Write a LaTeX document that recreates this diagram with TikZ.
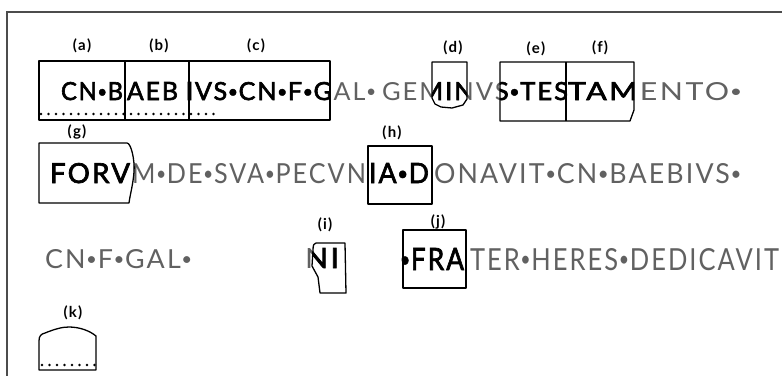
\documentclass[tikz,border=0pt]{standalone}
\usepackage{fontspec}
\usepackage{graphicx}
\setmainfont{Lato}
\newfontfamily\ghostf[LetterSpace=8]{Lato}
\newfontfamily\fragf[LetterSpace=8,FakeBold=2.5]{Lato}
\definecolor{ghost}{gray}{0.38}
\definecolor{framec}{gray}{0.3}
\newcommand\dt{\kern0.5pt\raisebox{0.1em}{\scalebox{0.7}{•}}\kern0.5pt}
% segment: x0, width, baseline, cap height, font, text
\newcommand\seg[6]{\node[txt,anchor=base west] at (#1,#3) {\resizebox{#2pt}{#4pt}{\fontsize{20}{24}\selectfont#5#6}};}
\newcommand\rowone[1]{%
 \seg{61}{62}{100}{18}{#1}{CN\dt B}%
 \seg{127}{51}{100}{18}{#1}{AEB}%
 \seg{185}{9}{100}{18}{#1}{I}%
 \seg{195}{182}{100}{18}{#1}{VS\dt CN\dt F\dt GAL\dt}%
 \seg{382}{186}{100}{18}{#1}{GEMINVS\dt TES}%
 \seg{568}{175}{100}{18}{#1}{TAMENTO\dt}}
\newcommand\rowtwo[1]{%
 \seg{50}{80}{183}{20}{#1}{FORV}%
 \seg{132}{234}{183}{20}{#1}{M\dt DE\dt SVA\dt PECVN}%
 \seg{369}{60}{183}{20}{#1}{IA\dt D}%
 \seg{434}{308}{183}{20}{#1}{ONAVIT\dt CN\dt BAEBIVS\dt}}
\newcommand\rowthree[1]{%
 \seg{45}{148}{268}{19}{#1}{CN\dt F\dt GAL\dt}%
 \seg{305}{34}{268}{20}{#1}{NI}%
 \seg{399}{65}{270}{22}{#1}{\dt FRA}%
 \seg{470}{309}{270}{22}{#1}{TER\dt HERES\dt DEDICAVIT}}
\newcommand\pathABC{(39,61) rectangle (330,120)}
\newcommand\pathD{(432,62) -- (467,62) -- (467,99) -- (463,105) -- (452,108) -- (441,107) -- (435,104) -- (432,98) -- cycle}
\newcommand\pathEF{(500,62) -- (634,62) -- (634,110) -- (630,121) -- (500,121) -- cycle}
\newcommand\pathG{(39,143) -- (127,143) .. controls (131,143) and (135,160) .. (134,172) .. controls (133,185) and (130,195) .. (129,203) -- (39,203) -- cycle}
\newcommand\pathH{(368,146) rectangle (432,204)}
\newcommand\pathI{(316,243) -- (345,243) -- (346,293) -- (320,293) -- (318,277) -- (312,266) -- (313,250) .. controls (313,245) and (314,243) .. (316,243) -- cycle}
\newcommand\pathJ{(403,230) rectangle (466,288)}
\newcommand\pathK{(39,370) -- (39,341) .. controls (39,336) and (41,334) .. (45,333) .. controls (55,329) and (62,327) .. (69,327) .. controls (80,327) and (90,331) .. (96,336) -- (96,370) -- cycle}
\newcommand\lb[1]{(\kern1.2pt#1\kern1.2pt)}
\tikzset{
 txt/.style={inner sep=0pt,outer sep=0pt},
 box/.style={draw=black,line width=1.3pt,line join=round},
 lab/.style={inner sep=0pt,font=\bfseries\fontsize{15}{16}\selectfont},
 dots/.style={line width=2.8pt,line cap=round,dash pattern=on 0pt off 7.5pt},
 frame/.style={draw=framec,line width=1.1pt}
}
\begin{document}
\begin{tikzpicture}[x=1pt,y=-1pt]
\fill[white] (0,0) rectangle (782,376);
\useasboundingbox (0,0) rectangle (782,376);
\draw[frame] (782,12) -- (7,12) -- (7,376);
% ghost text
\rowone{\ghostf\color{ghost}}
\rowtwo{\ghostf\color{ghost}}
\rowthree{\ghostf\color{ghost}}
% surviving fragments
\begin{scope}
\clip \pathABC \pathD \pathEF \pathG \pathH \pathI \pathJ;
\fill[white] \pathABC \pathD \pathEF \pathG \pathH \pathI \pathJ;
\rowone{\fragf\color{black}}
\rowtwo{\fragf\color{black}}
\rowthree{\fragf\color{black}}
\end{scope}
% fragment outlines
\draw[box] \pathABC;
\draw[box] (125,61) -- (125,120);
\draw[box] (189,61) -- (189,120);
\draw[box] \pathD;
\draw[box] \pathEF;
\draw[box] (566,62) -- (566,121);
\draw[box] \pathG;
\draw[box] \pathH;
\draw[box] \pathI;
\draw[box] \pathJ;
\draw[box] \pathK;
\draw[dots] (41,114) -- (221,114);
\draw[dots] (42,365) -- (95,365);
% labels
\node[lab] (la) at (82,46) {\lb{a}};
\node[lab] (lb) at (159,46) {\lb{b}};
\node[lab] (lc) at (256,46) {\lb{c}};
\node[lab] (ld) at (453,48) {\lb{d}};
\node[lab] (le) at (536,49) {\lb{e}};
\node[lab] (lf) at (600,48) {\lb{f}};
\node[lab] (lg) at (77,132) {\lb{g}};
\node[lab] (lh) at (392,133) {\lb{h}};
\node[lab] (li) at (325,225) {\lb{i}};
\node[lab] (lj) at (438,222) {\lb{j}};
\node[lab] (lk) at (73,313) {\lb{k}};
\end{tikzpicture}
\end{document}
